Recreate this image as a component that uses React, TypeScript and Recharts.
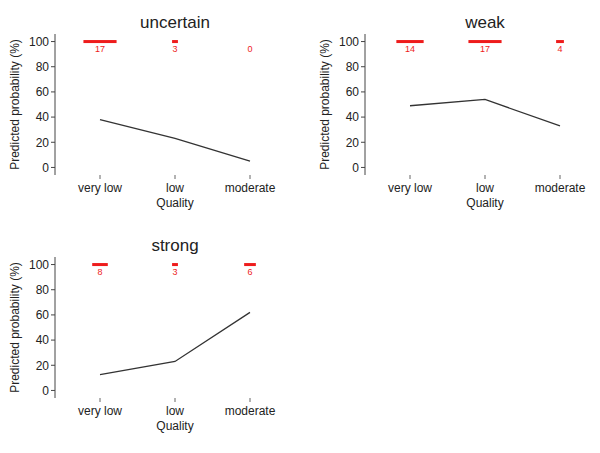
import { ComposedChart, Line, Scatter, XAxis, YAxis } from "recharts"

const categories = ["very low", "low", "moderate"]
const yTicks = [0, 20, 40, 60, 80, 100]

const uncertainProb = [38, 23, 5]
const uncertainN = [17, 3, 0]
const weakProb = [49, 54, 33]
const weakN = [14, 17, 4]
const strongProb = [12.5, 23, 62]
const strongN = [8, 3, 6]

const FONT = "'Liberation Sans', Arial, Helvetica, sans-serif"
const RED = "#ee1c1c"
const INK = "#222222"

const toRows = (prob: number[], counts: number[]) =>
  categories.map((_, i) => ({ x: i, p: prob[i], top: 100, n: counts[i] }))

// red bar at 100 whose width follows the count, with the count below it
const CountMark = (props: any) => {
  const { cx, cy, payload } = props
  const w = payload.n * 1.95
  return (
    <g>
      {w > 0 && <rect x={cx - w / 2} y={cy - 1.5} width={w} height={3} fill={RED} />}
      <text x={cx} y={cy + 10} textAnchor="middle" fontSize={9} fill={RED} fontFamily={FONT}>
        {payload.n}
      </text>
    </g>
  )
}

function Panel({ title, prob, counts, left, top }: { title: string; prob: number[]; counts: number[]; left: number; top: number }) {
  const rows = toRows(prob, counts)
  return (
    <div style={{ position: "absolute", left, top, width: 300, height: 223 }}>
      <div
        style={{
          position: "absolute",
          left: 55,
          width: 240,
          top: 12,
          textAlign: "center",
          fontFamily: FONT,
          fontSize: 17,
          lineHeight: "22px",
          color: INK,
        }}
      >
        {title}
      </div>
      <ComposedChart width={300} height={223} data={rows} margin={{ top: 34, right: 5, bottom: 13, left: 0 }}>
        <XAxis
          dataKey="x"
          type="number"
          domain={[-0.6, 2.6]}
          ticks={[0, 1, 2]}
          tickFormatter={(v) => categories[v]}
          axisLine={false}
          tickLine={{ stroke: "#666" }}
          tickSize={4}
          tickMargin={4}
          height={35}
          tick={{ fontSize: 12, fill: INK, fontFamily: FONT }}
          label={{ value: "Quality", position: "insideBottom", offset: 3, fontSize: 12, fill: INK, fontFamily: FONT }}
        />
        <YAxis
          type="number"
          domain={[-6, 106]}
          ticks={yTicks}
          width={55}
          tickSize={4}
          axisLine={{ stroke: "#444" }}
          tickLine={{ stroke: "#444" }}
          tick={{ fontSize: 12, fill: INK, fontFamily: FONT }}
          label={{
            value: "Predicted probability (%)",
            angle: -90,
            position: "insideLeft",
            offset: 15,
            fontSize: 12,
            fill: INK,
            fontFamily: FONT,
            style: { textAnchor: "middle" },
          }}
        />
        <Line dataKey="p" stroke="#333" strokeWidth={1.3} dot={false} isAnimationActive={false} />
        <Scatter dataKey="top" shape={CountMark} isAnimationActive={false} />
      </ComposedChart>
    </div>
  )
}

export default function App() {
  return (
    <div style={{ position: "absolute", left: 0, top: 0, width: 600, height: 453, overflow: "hidden", background: "#fff" }}>
      <Panel title="uncertain" prob={uncertainProb} counts={uncertainN} left={0} top={0} />
      <Panel title="weak" prob={weakProb} counts={weakN} left={310} top={0} />
      <Panel title="strong" prob={strongProb} counts={strongN} left={0} top={223} />
    </div>
  )
}
